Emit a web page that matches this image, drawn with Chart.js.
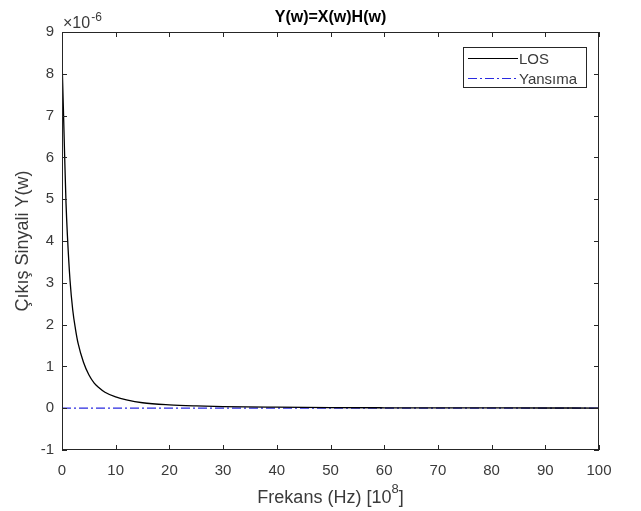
<!DOCTYPE html>
<html>
<head>
<meta charset="utf-8">
<script src="https://cdn.jsdelivr.net/npm/chart.js@4"></script>
<style>
  html, body { margin: 0; padding: 0; background: #fff; }
  #wrap { width: 641px; height: 511px; }
</style>
</head>
<body>
<div id="wrap"><canvas id="c" width="641" height="511"></canvas></div>
<script>
// data (y in units of 1e-6)
const freqs = [0, 0.25, 0.5, 0.75, 1, 1.5, 2, 2.5, 3, 4, 5, 6, 7, 8, 10, 12, 15, 20, 25, 30, 40, 50, 60, 70, 80, 90, 100];
const losVals = [8.35, 7.2, 6.0, 4.9, 4.15, 3.05, 2.35, 1.9, 1.55, 1.1, 0.8, 0.6, 0.48, 0.38, 0.27, 0.2, 0.13, 0.08, 0.055, 0.04, 0.025, 0.015, 0.01, 0.008, 0.006, 0.005, 0.004];
const yansimaFreqs = [0, 100];
const yansimaVals = [0, 0];
const xTicks = [0, 10, 20, 30, 40, 50, 60, 70, 80, 90, 100];
const yTicks = [-1, 0, 1, 2, 3, 4, 5, 6, 7, 8, 9];

const axisColor = '#262626';
const textColor = '#3a3a3a';
const FONT = 'Liberation Sans, Arial, sans-serif';

// MATLAB-style frame: inward ticks on all four sides, title, exponent, x label, legend
const matlabDecor = {
  id: 'matlabDecor',
  afterDraw(chart) {
    const { ctx, chartArea: a, scales } = chart;
    const xs = scales.x, ys = scales.y;
    ctx.save();
    ctx.strokeStyle = axisColor;
    ctx.lineWidth = 1;
    ctx.strokeRect(a.left + 0.5, a.top + 0.5, a.right - a.left - 1, a.bottom - a.top - 1);
    ctx.beginPath();
    xTicks.forEach(v => {
      const px = Math.round(xs.getPixelForValue(v)) + 0.5;
      ctx.moveTo(px, a.bottom); ctx.lineTo(px, a.bottom - 5);
      ctx.moveTo(px, a.top); ctx.lineTo(px, a.top + 5);
    });
    yTicks.forEach(v => {
      const py = Math.round(ys.getPixelForValue(v)) + 0.5;
      ctx.moveTo(a.left, py); ctx.lineTo(a.left + 5, py);
      ctx.moveTo(a.right, py); ctx.lineTo(a.right - 5, py);
    });
    ctx.stroke();

    // title
    ctx.fillStyle = '#000';
    ctx.font = 'bold 16px ' + FONT;
    ctx.textAlign = 'center';
    ctx.textBaseline = 'alphabetic';
    ctx.fillText('Y(w)=X(w)H(w)', (a.left + a.right) / 2, 22);

    // exponent label
    ctx.fillStyle = textColor;
    ctx.textAlign = 'left';
    ctx.font = '16px ' + FONT;
    ctx.fillText('\u00d710', a.left + 1, 28);
    const w = ctx.measureText('\u00d710').width;
    ctx.font = '12px ' + FONT;
    ctx.fillText('-6', a.left + 1 + w + 1, 21);

    // x axis label with superscript
    ctx.font = '18px ' + FONT;
    const main = 'Frekans (Hz) [10', sup = '8', tail = ']';
    const w1 = ctx.measureText(main).width;
    ctx.font = '13px ' + FONT;
    const w2 = ctx.measureText(sup).width;
    ctx.font = '18px ' + FONT;
    const w3 = ctx.measureText(tail).width;
    const x0 = (a.left + a.right) / 2 - (w1 + w2 + w3) / 2;
    ctx.fillText(main, x0, 503);
    ctx.font = '13px ' + FONT;
    ctx.fillText(sup, x0 + w1, 493);
    ctx.font = '18px ' + FONT;
    ctx.fillText(tail, x0 + w1 + w2, 503);

    // legend box
    const lx = 463, ly = 47, lw = 123, lh = 40;
    ctx.fillStyle = '#fff';
    ctx.fillRect(lx, ly, lw, lh);
    ctx.strokeStyle = axisColor;
    ctx.strokeRect(lx + 0.5, ly + 0.5, lw, lh);
    ctx.font = '15px ' + FONT;
    ctx.textBaseline = 'middle';
    chart.data.datasets.forEach((ds, i) => {
      const yy = ly + 11 + i * 20 + 0.5;
      ctx.strokeStyle = ds.borderColor;
      ctx.lineWidth = 1.2;
      ctx.setLineDash(ds.borderDash || []);
      ctx.beginPath();
      ctx.moveTo(lx + 5, yy); ctx.lineTo(lx + 55, yy);
      ctx.stroke();
      ctx.setLineDash([]);
      ctx.fillStyle = textColor;
      ctx.fillText(ds.label, lx + 56, yy + 1);
    });
    ctx.restore();
  }
};

new Chart(document.getElementById('c'), {
  type: 'line',
  data: {
    datasets: [
      {
        label: 'LOS',
        data: freqs.map((f, i) => ({ x: f, y: losVals[i] })),
        borderColor: '#000000',
        borderWidth: 1.3,
        pointRadius: 0,
        cubicInterpolationMode: 'monotone',
        fill: false
      },
      {
        label: 'Yans\u0131ma',
        data: yansimaFreqs.map((f, i) => ({ x: f, y: yansimaVals[i] })),
        borderColor: '#2a2ae0',
        borderWidth: 1.3,
        borderDash: [9, 3, 2, 3],
        pointRadius: 0,
        fill: false
      }
    ]
  },
  options: {
    responsive: false,
    animation: false,
    layout: { padding: { left: 0, top: 32, right: 42, bottom: 0 } },
    plugins: {
      legend: { display: false },
      tooltip: { enabled: false },
      title: { display: false }
    },
    scales: {
      x: {
        type: 'linear',
        min: 0, max: 100,
        afterBuildTicks: s => { s.ticks = xTicks.map(v => ({ value: v })); },
        afterFit: s => { s.height = 61; },
        grid: { display: false, drawTicks: false },
        border: { display: false },
        ticks: { color: textColor, font: { family: FONT, size: 15 }, padding: 12, maxRotation: 0 }
      },
      y: {
        type: 'linear',
        min: -1, max: 9,
        afterBuildTicks: s => { s.ticks = yTicks.map(v => ({ value: v })); },
        afterFit: s => { s.width = 62; },
        grid: { display: false, drawTicks: false },
        border: { display: false },
        title: {
          display: true,
          text: '\u00c7\u0131k\u0131\u015f Sinyali Y(w)',
          color: textColor,
          font: { family: FONT, size: 18 },
          padding: { top: 12, bottom: 0 }
        },
        ticks: { color: textColor, font: { family: FONT, size: 15 }, padding: 8 }
      }
    }
  },
  plugins: [matlabDecor]
});
</script>
</body>
</html>
